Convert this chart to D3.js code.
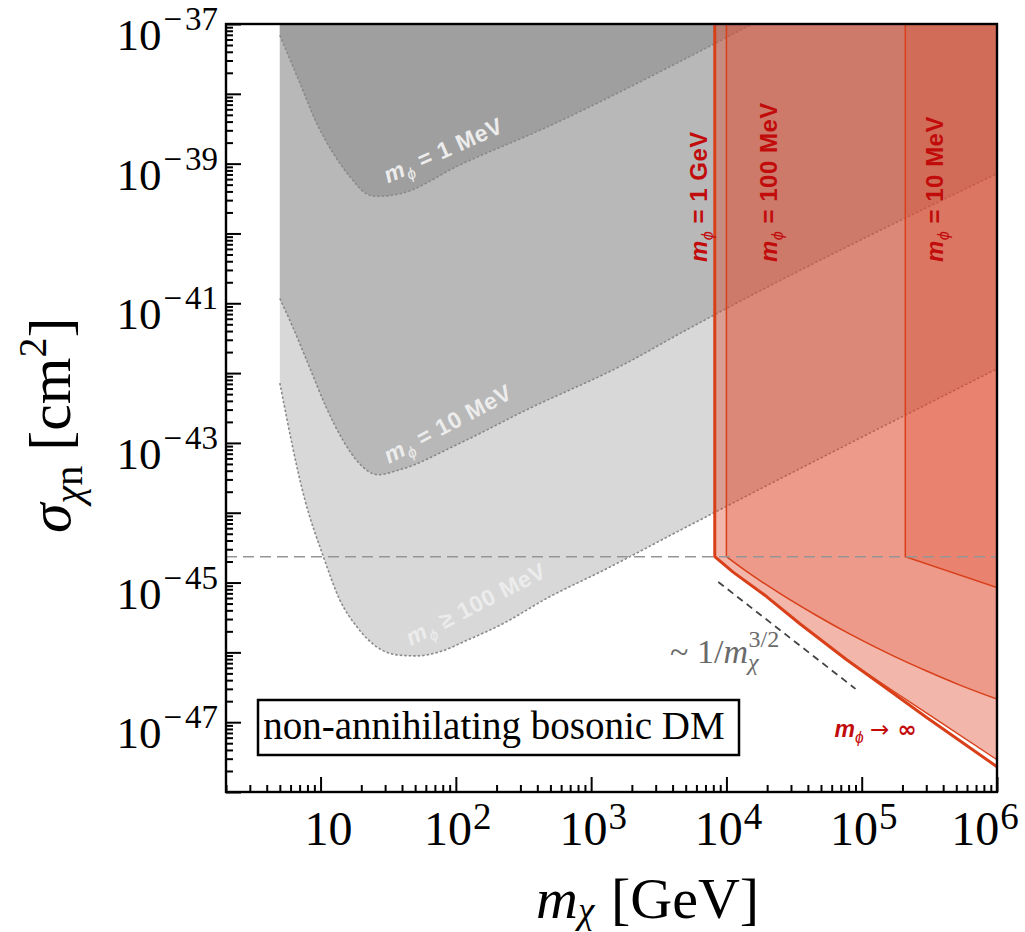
<!DOCTYPE html>
<html>
<head>
<meta charset="utf-8">
<script src="https://cdn.jsdelivr.net/npm/d3@7"></script>
<style>
body { margin: 0; background: #fff; }
svg { display: block; }
</style>
</head>
<body>
<script>
var W = 1025, H = 932;
var plotL = 226, plotR = 997, plotT = 24, plotB = 792;

var serif = "Liberation Serif, Times New Roman, serif";
var sans = "Liberation Sans, Arial, Helvetica, sans-serif";

// ---- data: [m_chi (GeV), sigma_chi_n (cm^2)] ----
// gray regions are excluded above each curve, starting at m_chi = 5 GeV
var grayCurve100MeV = [[5, 7.2e-43], [7.67, 1.51e-44], [10.5, 2.34e-45], [13.9, 5.6e-46], [18.5, 2.34e-46],
  [26, 1.2e-46], [38.6, 9.1e-47], [51.4, 8.9e-47], [76.4, 1.02e-46], [120, 1.48e-46], [212, 2.45e-46],
  [497, 6.3e-46], [1160, 1.41e-45], [4540, 5.6e-45], [1e6, 1.15e-42]];
var grayCurve10MeV = [[5, 1.17e-41], [6.22, 4.6e-42], [8.26, 1.23e-42], [10.96, 3.3e-43], [14.6, 1.1e-43],
  [19.3, 5.1e-44], [26.4, 3.5e-44], [38.2, 4.1e-44], [106, 9.8e-44], [330, 2.95e-43], [1810, 1.38e-42],
  [4540, 3.7e-42], [1e6, 7.2e-40]];
var grayCurve1MeV = [[5, 6.9e-38], [7.05, 1.41e-38], [9.35, 3.8e-39], [12.4, 1.41e-39], [16.5, 6.5e-40],
  [21.9, 3.7e-40], [26, 3.4e-40], [38.6, 3.7e-40], [106, 9.5e-40], [497, 3.5e-39], [4540, 2.9e-38],
  [1.55e4, 1e-37]];

// red regions: vertical edge down to the knee, then the lower edge
var kneeSigma = 2.35e-45;
var red1GeV = [[8.2e3, 2.35e-45], [1.12e4, 1.41e-45], [1.98e4, 6.3e-46], [3.49e4, 2.57e-46], [7.7e4, 7.9e-47],
  [1.71e5, 2.8e-47], [3.02e5, 1.35e-47], [1e6, 2.9e-48]];
var redInf = [[8.2e3, 2.35e-45], [1.12e4, 1.41e-45], [1.98e4, 6.3e-46], [3.49e4, 2.57e-46], [7.7e4, 7.9e-47],
  [1.71e5, 2.6e-47], [3.02e5, 1.17e-47], [1e6, 2.3e-48]];
var red100MeV = [[1e4, 2.35e-45], [1.47e4, 1.36e-45], [2.6e4, 6.6e-46], [4.6e4, 3.4e-46], [8.2e4, 1.82e-46],
  [1.71e5, 8.9e-47], [3.02e5, 5.4e-47], [5.32e5, 3.4e-47], [1e6, 2.14e-47]];
var red10MeV = [[2.1e5, 2.35e-45], [1e6, 8.5e-46]];

// ~ 1/m^{3/2} guide
var slopeGuide = [[8.7e3, 1.02e-45], [9e4, 3.0e-47]];

// tick labels (exponents)
var xTickExps = [1, 2, 3, 4, 5, 6];
var yTickExps = [-37, -39, -41, -43, -45, -47];

// ---- scales ----
var x = d3.scaleLog().domain([2, 1e6]).range([plotL, plotR]);
var y = d3.scaleLog().domain([1e-48, 1e-37]).range([plotB, plotT]);

var svg = d3.select("body").append("svg")
  .attr("width", W)
  .attr("height", H);

svg.append("defs").append("clipPath").attr("id", "plotclip")
  .append("rect")
  .attr("x", plotL).attr("y", plotT)
  .attr("width", plotR - plotL).attr("height", plotB - plotT);

var g = svg.append("g").attr("clip-path", "url(#plotclip)");

// area above a curve up to the top of the frame
function areaAbove(curve) {
  return d3.area()
    .x(function(d) { return x(d[0]); })
    .y0(plotT)
    .y1(function(d) { return y(d[1]); })
    .curve(curve);
}
var smoothLine = d3.line()
  .x(function(d) { return x(d[0]); })
  .y(function(d) { return y(d[1]); })
  .curve(d3.curveMonotoneX);

// gray regions
var grays = [
  { pts: grayCurve100MeV, fill: "#d8d8d8" },
  { pts: grayCurve10MeV, fill: "#b8b8b8" },
  { pts: grayCurve1MeV, fill: "#9f9f9f" }
];
grays.forEach(function(r) {
  g.append("path").attr("d", areaAbove(d3.curveMonotoneX)(r.pts)).attr("fill", r.fill);
});
grays.forEach(function(r) {
  g.append("path").attr("d", smoothLine(r.pts))
    .attr("fill", "none")
    .attr("stroke", "#8a8a8a")
    .attr("stroke-width", 1.6)
    .attr("stroke-dasharray", "2.5,2");
});

// red regions
var redFill = "rgb(222,72,42)";
var redLine = "#d9401a";
g.append("path").attr("d", areaAbove(d3.curveLinear)(red1GeV)).attr("fill", redFill).attr("fill-opacity", 0.4);
g.append("path").attr("d", areaAbove(d3.curveMonotoneX)(red100MeV)).attr("fill", redFill).attr("fill-opacity", 0.25);
g.append("path").attr("d", areaAbove(d3.curveLinear)(red10MeV)).attr("fill", redFill).attr("fill-opacity", 0.27);

// edges: vertical line from the top, then the lower boundary
function edgePath(pts, curve) {
  var p = d3.line().x(function(d) { return x(d[0]); }).y(function(d) { return y(d[1]); }).curve(curve)(pts);
  return "M" + x(pts[0][0]) + "," + plotT + "L" + p.slice(1);
}
g.append("path").attr("d", edgePath(red1GeV, d3.curveLinear))
  .attr("fill", "none").attr("stroke", redLine).attr("stroke-width", 1.4);
g.append("path").attr("d", edgePath(redInf, d3.curveLinear))
  .attr("fill", "none").attr("stroke", redLine).attr("stroke-width", 3).attr("stroke-linejoin", "round");
g.append("path").attr("d", edgePath(red100MeV, d3.curveMonotoneX))
  .attr("fill", "none").attr("stroke", redLine).attr("stroke-width", 1.5);
g.append("path").attr("d", edgePath(red10MeV, d3.curveLinear))
  .attr("fill", "none").attr("stroke", redLine).attr("stroke-width", 1.5);

// horizontal dashed line at the knee
g.append("line")
  .attr("x1", plotL).attr("x2", plotR)
  .attr("y1", y(kneeSigma)).attr("y2", y(kneeSigma))
  .attr("stroke", "#959595").attr("stroke-width", 1.5).attr("stroke-dasharray", "11,6");

// slope guide
g.append("line")
  .attr("x1", x(slopeGuide[0][0])).attr("y1", y(slopeGuide[0][1]))
  .attr("x2", x(slopeGuide[1][0])).attr("y2", y(slopeGuide[1][1]))
  .attr("stroke", "#444").attr("stroke-width", 1.8).attr("stroke-dasharray", "7,5");

// ---- annotations ----
function mphi(sel, rest, size) {
  sel.append("tspan").attr("font-style", "italic").text("m");
  sel.append("tspan").attr("font-style", "italic").attr("font-weight", "normal")
    .attr("font-size", size * 0.68).attr("dy", size * 0.25).text("ϕ");
  sel.append("tspan").attr("dy", -size * 0.25).text(rest);
}

var grayNotes = [
  { m: 31.5, s: 5.2e-40, rot: -24, txt: " = 1 MeV" },
  { m: 32.1, s: 5.0e-44, rot: -28, txt: " = 10 MeV" },
  { m: 46.5, s: 1.23e-46, rot: -27, txt: " \u2265  100 MeV" }
];
grayNotes.forEach(function(n) {
  var t = svg.append("text")
    .attr("transform", "translate(" + x(n.m) + "," + y(n.s) + ") rotate(" + n.rot + ")")
    .attr("font-family", sans).attr("font-weight", "bold").attr("font-size", 23)
    .attr("letter-spacing", 0.6)
    .attr("fill", "#ececec");
  mphi(t, n.txt, 23);
});

var redNotes = [
  { m: 7.2e3, txt: " = 1 GeV" },
  { m: 2.36e4, txt: " = 100 MeV" },
  { m: 4.0e5, txt: " = 10 MeV" }
];
redNotes.forEach(function(n) {
  var t = svg.append("text")
    .attr("transform", "translate(" + x(n.m) + "," + y(3.9e-41) + ") rotate(-90)")
    .attr("font-family", sans).attr("font-weight", "bold").attr("font-size", 24)
    .attr("letter-spacing", 0.5)
    .attr("fill", "#c20c0c");
  mphi(t, n.txt, 24);
});

var infNote = svg.append("text")
  .attr("x", x(6.3e4)).attr("y", y(6.1e-48))
  .attr("font-family", sans).attr("font-weight", "bold").attr("font-size", 23)
  .attr("fill", "#c20c0c");
mphi(infNote, " ", 23);
infNote.append("tspan").attr("font-family", "DejaVu Sans").attr("font-weight", "normal").text("\u2192");
infNote.append("tspan").attr("font-family", "DejaVu Sans").attr("font-weight", "bold").text(" \u221e");

var guideNote = svg.append("text")
  .attr("x", x(3.83e3)).attr("y", y(7.0e-47))
  .attr("font-family", serif).attr("font-size", 34).attr("fill", "#6a6a6a");
guideNote.append("tspan").text("~ 1/");
guideNote.append("tspan").attr("font-style", "italic").text("m");
guideNote.append("tspan").attr("font-style", "italic").attr("font-size", 24).attr("dy", 7).text("\u03c7");
guideNote.append("tspan").attr("font-size", 24).attr("dx", -10).attr("dy", -23).text("3/2");

// legend box
svg.append("rect")
  .attr("x", 258).attr("y", 700).attr("width", 481).attr("height", 55)
  .attr("fill", "#fff").attr("stroke", "#000").attr("stroke-width", 2.5);
svg.append("text")
  .attr("x", 494).attr("y", 739)
  .attr("text-anchor", "middle")
  .attr("font-family", serif).attr("font-size", 39)
  .text("non-annihilating bosonic DM");

// ---- axes ----
var yMajor = d3.range(-48, -36).map(function(e) { return Math.pow(10, e); });
var yMinor = [];
d3.range(-48, -37).forEach(function(e) {
  for (var k = 2; k <= 9; k++) yMinor.push(k * Math.pow(10, e));
});
var xMajor = d3.range(1, 7).map(function(e) { return Math.pow(10, e); });
var xMinor = [];
d3.range(0, 6).forEach(function(e) {
  for (var k = 2; k <= 9; k++) xMinor.push(k * Math.pow(10, e));
});

function styleAxis(a) {
  a.select(".domain").remove();
  a.selectAll("line").attr("stroke", "#000").attr("stroke-width", 2);
}
svg.append("g").attr("transform", "translate(" + plotL + ",0)")
  .call(d3.axisLeft(y).tickValues(yMajor).tickSize(-15).tickFormat(""))
  .call(styleAxis);
svg.append("g").attr("transform", "translate(" + plotL + ",0)")
  .call(d3.axisLeft(y).tickValues(yMinor).tickSize(-7).tickFormat(""))
  .call(styleAxis);
svg.append("g").attr("transform", "translate(0," + plotB + ")")
  .call(d3.axisBottom(x).tickValues(xMajor).tickSize(-15).tickFormat(""))
  .call(styleAxis);
svg.append("g").attr("transform", "translate(0," + plotB + ")")
  .call(d3.axisBottom(x).tickValues(xMinor).tickSize(-7).tickFormat(""))
  .call(styleAxis);

// frame
svg.append("rect")
  .attr("x", plotL).attr("y", plotT)
  .attr("width", plotR - plotL).attr("height", plotB - plotT)
  .attr("fill", "none").attr("stroke", "#000").attr("stroke-width", 2.4);

// tick labels
svg.selectAll(".ylab").data(yTickExps).enter().append("text")
  .attr("class", "ylab")
  .attr("x", 218)
  .attr("y", function(d) { return y(Math.pow(10, d)) + 26; })
  .attr("text-anchor", "end")
  .attr("font-family", serif).attr("font-size", 45)
  .each(function(d) {
    var t = d3.select(this);
    t.append("tspan").text("10");
    t.append("tspan").attr("font-size", 33).attr("dx", 2).attr("dy", -20).text("\u2212");
    t.append("tspan").attr("font-size", 33).attr("dx", 3).text(Math.abs(d));
  });

svg.selectAll(".xlab").data(xTickExps).enter().append("text")
  .attr("class", "xlab")
  .attr("x", function(d) { return Math.min(x(Math.pow(10, d)) + (d === 1 ? 8 : 2), 985); })
  .attr("y", 845)
  .attr("text-anchor", "middle")
  .attr("font-family", serif).attr("font-size", 48)
  .each(function(d) {
    var t = d3.select(this);
    t.append("tspan").text("10");
    if (d > 1) t.append("tspan").attr("font-size", 37).attr("dx", 1).attr("dy", -16).text(d);
  });

// axis titles
var xt = svg.append("text")
  .attr("x", 536).attr("y", 918)
  .attr("font-family", serif).attr("font-size", 58);
xt.append("tspan").attr("font-style", "italic").text("m");
xt.append("tspan").attr("font-style", "italic").attr("font-size", 37).attr("dy", 5).text("\u03c7");
xt.append("tspan").attr("x", 611).attr("dy", -5).text("[GeV]");

var yt = svg.append("text")
  .attr("transform", "translate(70,533) rotate(-90)")
  .attr("font-family", serif).attr("font-size", 60);
yt.append("tspan").attr("font-style", "italic").text("\u03c3");
yt.append("tspan").attr("font-style", "italic").attr("font-size", 40).attr("dy", 12).text("\u03c7");
yt.append("tspan").attr("font-size", 40).text("n");
yt.append("tspan").attr("dy", -12).text(" [cm");
yt.append("tspan").attr("font-size", 40).attr("dy", -24).text("2");
yt.append("tspan").attr("dy", 24).text("]");
</script>
</body>
</html>
